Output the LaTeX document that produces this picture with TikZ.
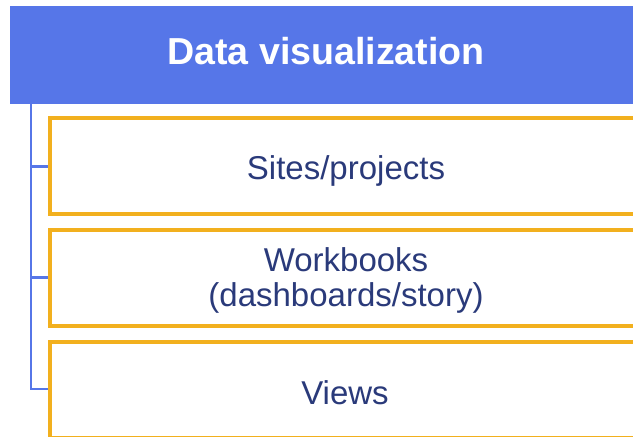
\documentclass[tikz,border=0pt]{standalone}
\usepackage{fontspec}
\setmainfont{Liberation Sans}
\definecolor{hdrblue}{HTML}{5676E8}
\definecolor{boxorange}{HTML}{F2B01E}
\definecolor{txtnavy}{HTML}{2A3A7A}
\tikzset{
  hdrtext/.style={text=white, font=\fontsize{37.6}{40}\selectfont\bfseries, anchor=base, inner sep=0pt},
  itembox/.style={draw=boxorange, line width=4pt, fill=white},
  itemtext/.style={text=txtnavy, align=center, anchor=base, inner sep=0pt,
    font=\fontsize{33}{35}\selectfont},
  conn/.style={draw=hdrblue, line width=2.5pt}
}
\begin{document}
\begin{tikzpicture}[x=1pt,y=-1pt]
\useasboundingbox (0,0) rectangle (633,437);
\clip (0,0) rectangle (633,437);
\fill[hdrblue] (10,6) rectangle (642,104);
\node[hdrtext] (hdr) at (326,64) {Data visualization};
\coordinate (top) at (31,104);
\draw[itembox] (50,118) rectangle (642,214);
\node[itemtext] (b1) at (346,179.3) {Sites/projects};
\draw[itembox] (50,230) rectangle (642,326);
\node[itemtext] (b2) at (346,306.7) {Workbooks\\(dashboards/story)};
\draw[itembox] (50,342) rectangle (642,438);
\node[itemtext] (b3) at (345,404) {Views};
\coordinate (l1) at (48,166.5);
\coordinate (l2) at (48,277.5);
\coordinate (l3) at (48,389);
\draw[conn] (top) |- (l1);
\draw[conn] (top) |- (l2);
\draw[conn] (top) |- (l3);
\end{tikzpicture}
\end{document}
